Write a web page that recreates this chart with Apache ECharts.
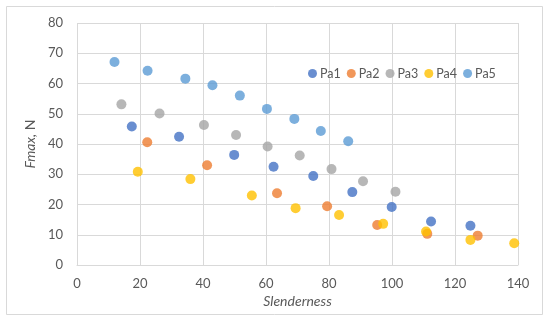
<!DOCTYPE html>
<html>
<head>
<meta charset="utf-8">
<script src="https://cdn.jsdelivr.net/npm/echarts@6/dist/echarts.min.js"></script>
<style>html,body{margin:0;padding:0;background:#fff;}#c{width:550px;height:323px;}</style>
</head>
<body>
<div id="c"></div>
<script>
var seriesNames = ['Pa1', 'Pa2', 'Pa3', 'Pa4', 'Pa5'];
var pa1X = [17.4, 32.4, 49.9, 62.4, 75.0, 87.4, 99.9, 112.4, 124.9];
var pa1Y = [45.8, 42.4, 36.4, 32.5, 29.4, 24.1, 19.2, 14.4, 13.0];
var pa2X = [22.3, 41.3, 63.5, 79.4, 95.3, 111.2, 127.2];
var pa2Y = [40.6, 33.0, 23.7, 19.4, 13.2, 10.3, 9.7];
var pa3X = [14.1, 26.2, 40.3, 50.5, 60.5, 70.7, 80.8, 90.8, 101.1];
var pa3Y = [53.1, 50.1, 46.3, 43.0, 39.2, 36.2, 31.7, 27.7, 24.2];
var pa4X = [19.3, 36.0, 55.5, 69.4, 83.2, 97.2, 110.8, 124.9, 138.8];
var pa4Y = [30.8, 28.4, 23.0, 18.8, 16.5, 13.6, 11.1, 8.3, 7.2];
var pa5X = [11.9, 22.4, 34.4, 43.0, 51.7, 60.3, 69.0, 77.4, 86.1];
var pa5Y = [67.1, 64.2, 61.6, 59.4, 56.0, 51.6, 48.3, 44.3, 40.9];
var colors = ['#4472C4', '#ED7D31', '#A5A5A5', '#FFC000', '#5B9BD5'];
var xs = [pa1X, pa2X, pa3X, pa4X, pa5X];
var ys = [pa1Y, pa2Y, pa3Y, pa4Y, pa5Y];

function pairs(x, y) { return x.map(function (v, i) { return [v, y[i]]; }); }

var FONT = 'Lato, "Open Sans", sans-serif';
var chart = echarts.init(document.getElementById('c'), null, {renderer: 'canvas'});
chart.setOption({
  animation: false,
  backgroundColor: '#fff',
  textStyle: {fontFamily: FONT},
  graphic: [{
    type: 'rect', shape: {x: 6.5, y: 6.5, width: 536, height: 308},
    style: {fill: 'none', stroke: '#d9d9d9', lineWidth: 1}, silent: true, z: -1
  }],
  grid: {left: 77, right: 32, top: 23, bottom: 58, containLabel: false},
  legend: {
    data: seriesNames,
    left: 303, top: 62,
    icon: 'circle', itemWidth: 9, itemHeight: 9, itemGap: 6,
    textStyle: {color: '#595959', fontSize: 12.5, fontFamily: FONT, padding: [0, 0, 0, -2]}
  },
  xAxis: {
    type: 'value', min: 0, max: 140, interval: 20,
    name: 'Slenderness', nameLocation: 'middle', nameGap: 29,
    nameTextStyle: {color: '#595959', fontSize: 14, fontStyle: 'italic', fontFamily: FONT},
    axisLine: {show: true, lineStyle: {color: '#d9d9d9'}},
    axisTick: {show: false},
    axisLabel: {color: '#595959', fontSize: 13, margin: 12},
    splitLine: {show: true, lineStyle: {color: '#d9d9d9'}}
  },
  yAxis: {
    type: 'value', min: 0, max: 80, interval: 10,
    name: '{i|Fmax,} N', nameLocation: 'middle', nameGap: 25, nameRotate: 90,
    nameTextStyle: {color: '#595959', fontSize: 14, fontFamily: FONT,
      rich: {i: {fontStyle: 'italic', color: '#595959', fontSize: 14, fontFamily: FONT}}},
    axisLine: {show: false},
    axisTick: {show: false},
    axisLabel: {color: '#595959', fontSize: 13, margin: 14},
    splitLine: {show: true, lineStyle: {color: '#d9d9d9'}}
  },
  series: seriesNames.map(function (n, i) {
    return {
      name: n, type: 'scatter', symbol: 'circle', symbolSize: 10,
      itemStyle: {color: colors[i]},
      data: pairs(xs[i], ys[i])
    };
  })
});
</script>
</body>
</html>
